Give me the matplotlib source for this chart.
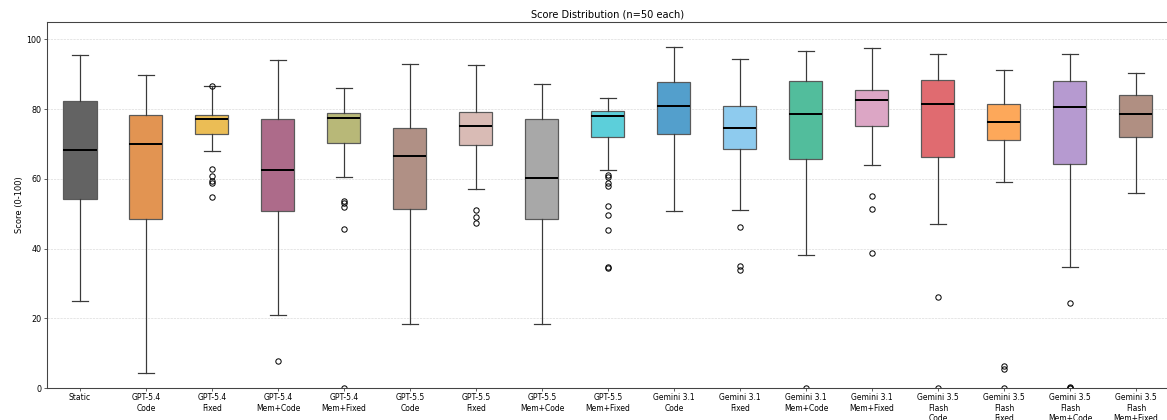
import matplotlib
matplotlib.use("Agg")
import matplotlib.pyplot as plt

# categories and box statistics (scores 0-100)
labels = [
    "Static", "GPT-5.4\nCode", "GPT-5.4\nFixed", "GPT-5.4\nMem+Code", "GPT-5.4\nMem+Fixed",
    "GPT-5.5\nCode", "GPT-5.5\nFixed", "GPT-5.5\nMem+Code", "GPT-5.5\nMem+Fixed",
    "Gemini 3.1\nCode", "Gemini 3.1\nFixed", "Gemini 3.1\nMem+Code", "Gemini 3.1\nMem+Fixed",
    "Gemini 3.5\nFlash\nCode", "Gemini 3.5\nFlash\nFixed", "Gemini 3.5\nFlash\nMem+Code",
    "Gemini 3.5\nFlash\nMem+Fixed",
]
whis_hi = [95.6, 89.8, 86.5, 94.2, 86.2, 92.9, 92.7, 87.2, 83.1, 97.7, 94.5, 96.6, 97.6, 95.9, 91.2, 95.7, 90.4]
q3      = [82.3, 78.2, 78.3, 77.1, 78.8, 74.5, 79.3, 77.3, 79.6, 87.7, 81.0, 88.1, 85.5, 88.3, 81.5, 88.1, 84.2]
medians = [68.3, 69.9, 77.2, 62.6, 77.5, 66.7, 75.3, 60.2, 78.1, 81.0, 74.5, 78.6, 82.7, 81.6, 76.3, 80.6, 78.6]
q1      = [54.1, 48.5, 72.8, 50.9, 70.4, 51.3, 69.7, 48.5, 72.1, 73.0, 68.5, 65.6, 75.2, 66.4, 71.1, 64.4, 72.1]
whis_lo = [24.9, 4.4, 68.1, 21.0, 60.5, 18.5, 57.1, 18.3, 62.6, 50.9, 51.0, 38.2, 64.0, 47.0, 59.2, 34.8, 56.0]
outliers = [
    [],
    [],
    [86.7, 62.8, 60.9, 59.4, 58.9, 54.8],
    [7.8],
    [53.6, 53.2, 52.0, 45.6, 0.0],
    [],
    [51.1, 49.1, 47.2],
    [],
    [61.1, 60.6, 58.9, 58.0, 52.3, 49.7, 45.4, 34.8, 34.5],
    [],
    [46.2, 35.1, 33.8],
    [0.0],
    [55.2, 51.3, 38.8],
    [26.1, 0.0],
    [6.3, 5.4, 0.0],
    [24.4, 0.3, 0.0, 0.0],
    [],
]
colors = [
    "#636363", "#e29452", "#ebbd55", "#ad6b8a", "#b8b878", "#b09085", "#d9bbb5",
    "#a8a8a8", "#5ccfda", "#539fcc", "#8ecbee", "#52bd9c", "#dca6c5", "#e06b70",
    "#fda85a", "#b69ad0", "#b08f82",
]

stats = []
for i in range(len(labels)):
    stats.append({
        "med": medians[i], "q1": q1[i], "q3": q3[i],
        "whislo": whis_lo[i], "whishi": whis_hi[i], "fliers": outliers[i],
    })

dpi = 55
fig = plt.figure(figsize=(1167 / dpi, 420 / dpi), dpi=dpi)
ax = fig.add_axes([47 / 1167, 1 - 388 / 420, 1122 / 1167, 366 / 420])

bp = ax.bxp(stats, positions=range(1, len(labels) + 1), widths=0.5,
            patch_artist=True,
            boxprops=dict(edgecolor="#5a5a5a", linewidth=1.6),
            whiskerprops=dict(color="#3a3a3a", linewidth=1.6),
            capprops=dict(color="#3a3a3a", linewidth=1.6),
            medianprops=dict(color="black", linewidth=2.6),
            flierprops=dict(marker="o", markerfacecolor="none",
                            markeredgecolor="black", markersize=7,
                            markeredgewidth=1.3))
for patch, c in zip(bp["boxes"], colors):
    patch.set_facecolor(c)

ax.set_xlim(0.5, len(labels) + 0.5)
ax.set_ylim(0, 105)
ax.set_xticks(range(1, len(labels) + 1))
ax.set_xticklabels(labels, fontsize=10)
ax.set_yticks([0, 20, 40, 60, 80, 100])
ax.tick_params(axis="y", labelsize=10.5)
ax.set_ylabel("Score (0-100)", fontsize=11)
ax.set_title("Score Distribution (n=50 each)", fontsize=13)
ax.yaxis.grid(True, linestyle="--", color="#cccccc", alpha=0.8)
ax.set_axisbelow(True)
for s in ax.spines.values():
    s.set_color("#444444")
    s.set_linewidth(1.4)

fig.savefig("out.png", dpi=dpi)
